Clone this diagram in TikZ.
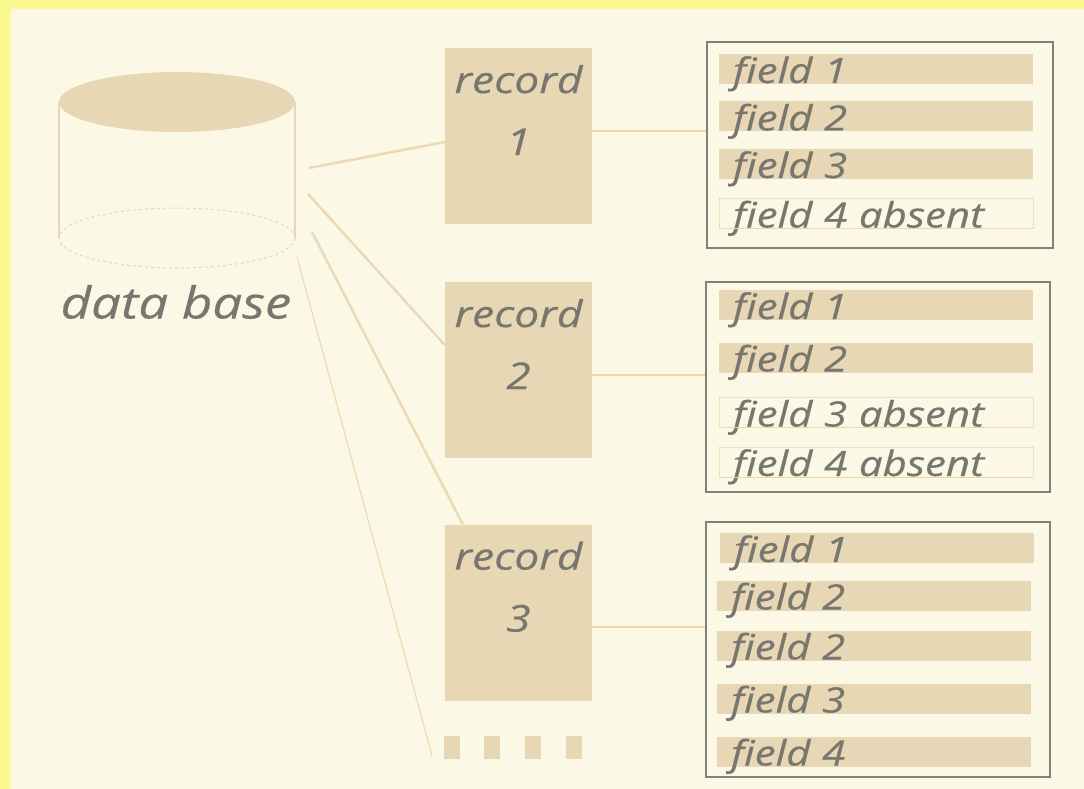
\documentclass[tikz,border=0pt]{standalone}
\usepackage{fontspec}
\setmainfont{Open Sans}[FakeStretch=1.2, FakeBold=0.4]
\usetikzlibrary{positioning}

\definecolor{outer}{HTML}{FCF98E}
\definecolor{paper}{HTML}{FBF9E5}
\definecolor{sand}{HTML}{E8D7B4}
\definecolor{wire}{HTML}{ECDAB6}
\definecolor{leadc}{HTML}{F2D4A6}
\definecolor{ink}{HTML}{77776F}
\definecolor{frame}{HTML}{838079}

\begin{document}
\begin{tikzpicture}[x=1pt,y=-1pt,
	record/.style={fill=sand, minimum width=147pt, minimum height=176pt, inner sep=0pt},
	rlabel/.style={text=ink, font=\fontsize{37}{62}\selectfont\itshape, align=center, inner sep=0pt},
	group/.style={draw=frame, line width=2pt, inner sep=0pt},
	bar/.style={fill=sand, minimum width=314pt, minimum height=30pt, text width=286pt, inner xsep=14pt, inner ysep=1pt,
		text height=28pt, text depth=0pt, align=left, text=ink, font=\fontsize{35}{40}\selectfont\itshape},
	absent/.style={bar, fill=none, draw=sand, densely dotted, line width=0.6pt},
	link/.style={draw=wire, line width=2.5pt},
	lead/.style={draw=leadc, line width=1.5pt},
	block/.style={fill=sand, minimum width=16pt, minimum height=23pt, inner sep=0pt}]

	% background
	\fill[outer] (0,0) rectangle (1084,789);
	\fill[paper] (11,9) rectangle (1084,789);

	% data base cylinder
	\fill[sand] (177,102) ellipse [x radius=118pt, y radius=30pt];
	\draw[sand, line width=1.2pt] (59,102) -- (59,238) (295,102) -- (295,238);
	\draw[sand, dashed, line width=1pt] (177,238) ellipse [x radius=118pt, y radius=30pt];
	\node (db) [text=ink, font=\fontsize{44}{50}\selectfont\itshape] at (176,302) {data base};

	\coordinate (o1) at (309,168);
	\coordinate (o2) at (308,194);
	\coordinate (o3) at (312,232);
	\coordinate (o4) at (297,257);
	\coordinate (tail) at (432,756);

	% records
	\node (r1) [record] at (518.5,136) {};
	\node (r2) [record] at (518.5,370) {};
	\node (r3) [record] at (518.5,612.5) {};
	\node [rlabel, below=17pt of r1.north] {record\\1};
	\node [rlabel, below=17pt of r2.north] {record\\2};
	\node [rlabel, below=17pt of r3.north] {record\\3};

	\foreach \x [count=\i] in {452,492,533,574}
		\node (k\i) [block] at (\x,747.5) {};

	% field groups
	\node (g1) [group, minimum width=346pt, minimum height=206pt] at (879.5,145) {};
	\node (g2) [group, minimum width=344pt, minimum height=210pt] at (878,387) {};
	\node (g3) [group, minimum width=344pt, minimum height=255pt] at (878,649.5) {};

	\node (f11) [bar] at (876,69) {field 1};
	\node (f12) [bar] at (876,116.5) {field 2};
	\node (f13) [bar] at (876,164) {field 3};
	\node (f14) [absent] at (876,213.5) {field 4 absent};

	\node (f21) [bar] at (876,305) {field 1};
	\node (f22) [bar] at (876,357.5) {field 2};
	\node (f23) [absent] at (876,412.5) {field 3 absent};
	\node (f24) [absent] at (876,462) {field 4 absent};

	\node (f31) [bar] at (877,548) {field 1};
	\node (f32) [bar] at (874,595.5) {field 2};
	\node (f33) [bar] at (874,645.5) {field 2};
	\node (f34) [bar] at (874,698.5) {field 3};
	\node (f35) [bar] at (874,751.5) {field 4};

	\foreach \f in {f14,f23,f24}
		\draw[leadc, line width=1pt] (\f.south west) -- (\f.south east);

	% connectors
	\path[link]
	(o1) edge ([yshift=-6pt]r1.west)
	(o2) edge ([yshift=25pt]r2.west)
	(o3) edge ([xshift=18pt]r3.north west);

	\path[lead]
	(o4) edge[line width=1pt] (tail)
	([yshift=5pt]r1.east) edge ([yshift=5pt]r1.east -| g1.west)
	([yshift=-5pt]r2.east) edge ([yshift=-5pt]r2.east -| g2.west)
	([yshift=-14.5pt]r3.east) edge ([yshift=-14.5pt]r3.east -| g3.west);

\end{tikzpicture}
\end{document}
